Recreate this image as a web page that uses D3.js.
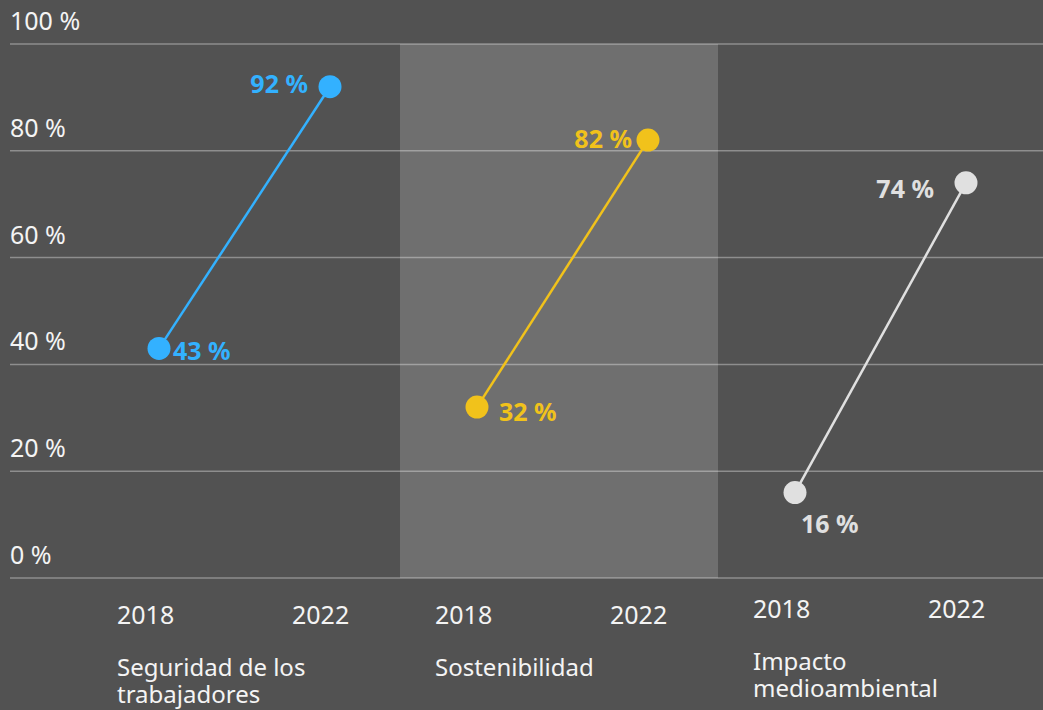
<!DOCTYPE html>
<html lang="es">
<head>
<meta charset="UTF-8">
<title>Slope chart</title>
<style>
  html, body { margin: 0; height: 100%; background: #525252; }
  svg { display: block; font-family: "Noto Sans", "Open Sans", sans-serif; }
  .tick-label { fill: #f4f4f4; font-size: 25px; }
  .year { fill: #f4f4f4; font-size: 25px; }
  .cat { fill: #f4f4f4; font-size: 24px; }
  .value { font-size: 25px; font-weight: 700; }
</style>
</head>
<body>
<svg id="chart" width="1043" height="710"></svg>
<script src="https://d3js.org/d3.v7.min.js"></script>
<script>
// data
var categories = ["Seguridad de los trabajadores", "Sostenibilidad", "Impacto medioambiental"];
var categoryLines = [["Seguridad de los", "trabajadores"], ["Sostenibilidad"], ["Impacto", "medioambiental"]];
var years = [2018, 2022];
var values2018 = [43, 32, 16];
var values2022 = [92, 82, 74];
var yTicks = [0, 20, 40, 60, 80, 100];

var colors = ["#33b1ff", "#f1c21b", "#e0e0e0"];

// hand placement of the value labels (dx, dy, anchor) per category and year
var labelPlace = [
    [{ dx: 14, dy: 12, anchor: "start" }, { dx: -22, dy: 6, anchor: "end" }],
    [{ dx: 22, dy: 14, anchor: "start" }, { dx: -16, dy: 8, anchor: "end" }],
    [{ dx: 6, dy: 40, anchor: "start" }, { dx: -32, dy: 15, anchor: "end" }]
];
var yearDy = [0, 0, -6];

var width = 1043, height = 710;
var svg = d3.select("#chart");

var x = d3.scaleBand().domain(categories).range([82, 1036]).padding(0);
var xYear = d3.scaleLinear().domain([2018, 2022]).range([77, 248]);
var y = d3.scaleLinear().domain([0, 100]).range([578, 44]);

// shaded middle panel
svg.append("rect")
    .attr("x", x(categories[1]))
    .attr("y", y(100))
    .attr("width", x.bandwidth())
    .attr("height", y(0) - y(100))
    .attr("fill", "#6f6f6f");

// gridlines + labels
var grid = svg.append("g");
grid.selectAll("line").data(yTicks).join("line")
    .attr("x1", 10).attr("x2", width)
    .attr("y1", d => y(d)).attr("y2", d => y(d))
    .attr("stroke", "#ffffff")
    .attr("stroke-opacity", 0.35)
    .attr("stroke-width", 1.5);
grid.selectAll("text").data(yTicks).join("text")
    .attr("class", "tick-label")
    .attr("x", 10)
    .attr("y", d => y(d) - 14)
    .text(d => d + " %");

categories.forEach(function (c, i) {
    var g = svg.append("g").attr("transform", `translate(${x(c)},0)`);
    var pts = [
        { year: 2018, v: values2018[i] },
        { year: 2022, v: values2022[i] }
    ];

    g.append("path")
        .attr("d", d3.line().x(d => xYear(d.year)).y(d => y(d.v))(pts))
        .attr("fill", "none")
        .attr("stroke", colors[i])
        .attr("stroke-width", 2.5);

    g.selectAll("circle").data(pts).join("circle")
        .attr("cx", d => xYear(d.year))
        .attr("cy", d => y(d.v))
        .attr("r", 11.5)
        .attr("fill", colors[i]);

    g.selectAll("text.value").data(pts).join("text")
        .attr("class", "value")
        .attr("fill", colors[i])
        .attr("x", (d, j) => xYear(d.year) + labelPlace[i][j].dx)
        .attr("y", (d, j) => y(d.v) + labelPlace[i][j].dy)
        .attr("text-anchor", (d, j) => labelPlace[i][j].anchor)
        .text(d => d.v + " %");

    // year labels
    g.selectAll("text.year").data(years).join("text")
        .attr("class", "year")
        .attr("x", (d, j) => j === 0 ? 35 : 210)
        .attr("y", 624 + yearDy[i])
        .text(d => d);

    // category label
    var t = g.append("text").attr("class", "cat")
        .attr("x", 35)
        .attr("y", (i === 2 ? 670 : 676));
    t.selectAll("tspan").data(categoryLines[i]).join("tspan")
        .attr("x", 35)
        .attr("dy", (d, j) => j === 0 ? 0 : 27)
        .text(d => d);
});
</script>
</body>
</html>
